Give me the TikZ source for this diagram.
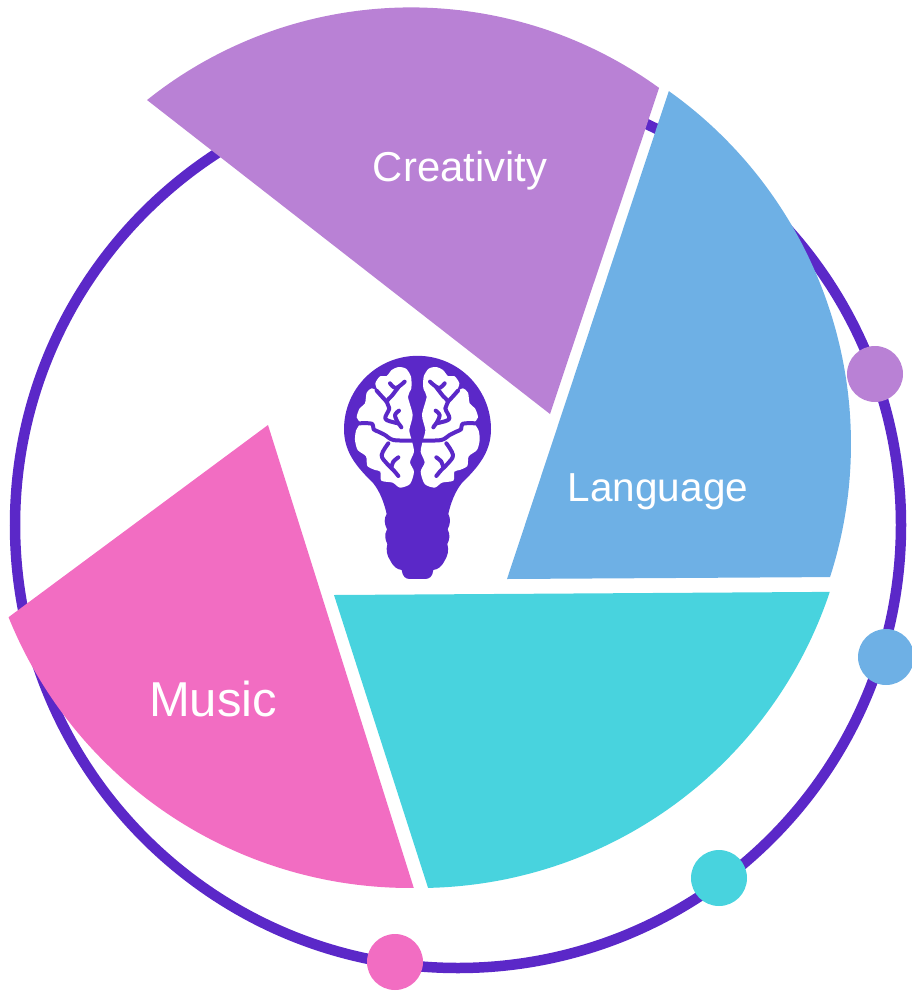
\documentclass[tikz,border=0pt]{standalone}
\usepackage{fontspec}
\setmainfont{Liberation Sans}
\definecolor{ringc}{HTML}{5B28C8}
\definecolor{creac}{HTML}{B981D5}
\definecolor{langc}{HTML}{6EB0E5}
\definecolor{tealc}{HTML}{48D3DE}
\definecolor{musc}{HTML}{F26DC2}
\tikzset{
  dot/.style={circle,inner sep=0pt,minimum size=56pt,fill=#1,draw=none},
  label/.style={text=white,inner sep=0pt,anchor=center},
  vein/.style={draw=ringc,line width=4pt,line cap=round,line join=round},
}
\newcommand{\brainhalf}{%
  \fill[white] plot[smooth cycle,tension=.45] coordinates {
    (243,110) (228,86) (205,81) (185,90) (170,108) (150,109) (136,130) (142,152)
    (125,145) (110,158) (105,190) (89,205) (80,232) (90,249) (78,272) (75,300)
    (83,330) (108,349) (112,378) (135,390) (151,395) (154,422) (188,428) (210,443)
    (240,432) (252,395) (240,367) (252,335) (245,300) (238,270) (248,225) (234,170) (244,145)};
  \draw[vein] plot[smooth,tension=.6] coordinates {(180,130) (198,144) (224,125)};
  \draw[vein] plot[smooth,tension=.6] coordinates {(205,142) (185,168) (170,185) (178,205) (166,236) (195,248) (205,250) (214,262)};
  \draw[vein] plot[smooth,tension=.6] coordinates {(140,152) (156,170) (170,185)};
  \draw[vein] plot[smooth,tension=.6] coordinates {(207,212) (195,226) (205,250)};
  \draw[vein] plot[smooth,tension=.5] coordinates {(86,250) (125,251) (131,268) (145,275) (165,285) (190,300) (246,302)};
  \draw[vein] plot[smooth,tension=.6] coordinates {(175,310) (155,345) (170,370) (190,390) (205,408)};
  \draw[vein] plot[smooth,tension=.6] coordinates {(185,380) (190,365) (205,352)};
}
\begin{document}
\begin{tikzpicture}[x=1pt,y=-1pt]
\useasboundingbox (0,0) rectangle (912,991);
\clip (0,0) rectangle (912,991);
% ring
\draw[ringc,line width=10.5pt] (458,525) circle[radius=443pt];
% wedges
\fill[creac] (550,414) -- plot[domain=-128.66:-54.05,samples=80] ({411+422.6*cos(\x)},{430+422.6*sin(\x)}) -- cycle;
\fill[langc] (507,579) -- plot[domain=-54.6:17.9,samples=80] ({418+433*cos(\x)},{444+433*sin(\x)}) -- cycle;
\fill[tealc] (334,595) -- plot[domain=18.43:88.8,samples=80] ({419+433*cos(\x)},{455+433*sin(\x)}) -- cycle;
\fill[musc] (268,425) -- plot[domain=89.5:158,samples=80] ({410+433*cos(\x)},{455+433*sin(\x)}) -- cycle;
% dots
\node[dot=creac] (d1) at (875,374) {};
\node[dot=langc] (d2) at (886,657) {};
\node[dot=tealc] (d3) at (719,878) {};
\node[dot=musc] (d4) at (395,962) {};
% labels
\node[label,font=\fontsize{41.8pt}{46pt}\selectfont] (crea) at (460,171) {Creativity};
\node[label,font=\fontsize{40.5pt}{46pt}\selectfont] (lang) at (658,492) {Language};
\node[label,font=\fontsize{49pt}{54pt}\selectfont] (mus) at (213,699) {Music};
% bulb
\begin{scope}[shift={(330,340)},x=0.3333pt,y=-0.3333pt]
\fill[ringc] (42,268) arc[start angle=180,end angle=0,radius=73.5pt]
  .. controls (483,340) and (440,385) .. (395,430)
  .. controls (375,455) and (362,490) .. (355,522)
  .. controls (362,535) and (362,550) .. (353,568)
  .. controls (362,585) and (358,600) .. (352,612)
  .. controls (358,630) and (352,650) .. (345,660)
  .. controls (335,680) and (325,688) .. (310,690)
  .. controls (308,710) and (298,717) .. (285,717)
  -- (240,717)
  .. controls (226,717) and (218,710) .. (215,690)
  .. controls (200,688) and (190,680) .. (180,660)
  .. controls (172,650) and (167,630) .. (172,612)
  .. controls (166,600) and (162,585) .. (171,568)
  .. controls (162,550) and (162,535) .. (170,522)
  .. controls (163,490) and (150,455) .. (130,430)
  .. controls (85,385) and (42,340) .. (42,268) -- cycle;
\begin{scope}
\brainhalf
\end{scope}
\begin{scope}[xshift=174.67pt,xscale=-1]
\brainhalf
\end{scope}
\end{scope}
\end{tikzpicture}
\end{document}
